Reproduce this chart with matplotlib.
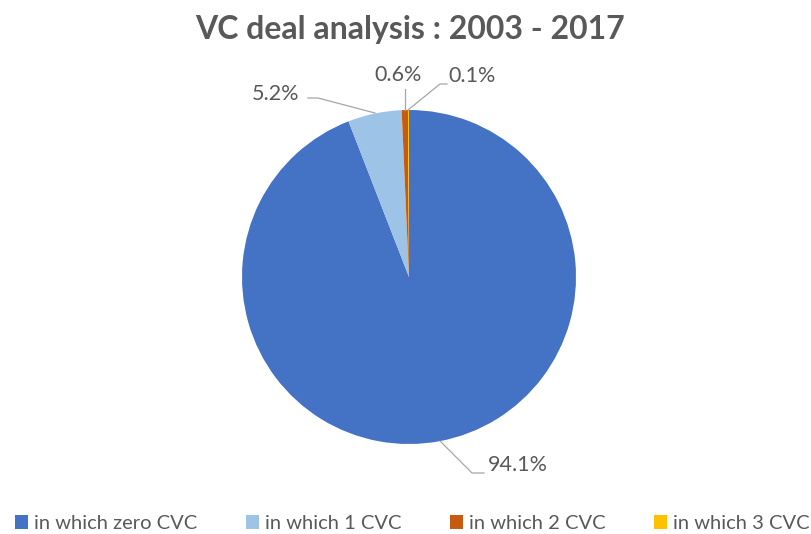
import matplotlib
matplotlib.use("Agg")
from matplotlib import pyplot as plt
from matplotlib.patches import Patch

plt.rcParams['font.family'] = ['Lato', 'DejaVu Sans']

# data
categories = ['in which zero CVC', 'in which 1 CVC', 'in which 2 CVC', 'in which 3 CVC']
shares = [94.1, 5.2, 0.6, 0.1]
colors = ['#4472C4', '#9DC3E6', '#C55A11', '#FFC000']

text_grey = '#595959'
line_grey = '#A6A6A6'

W, H = 812, 534
cx, cy, R = 409, 277, 167

fig = plt.figure(figsize=(W / 100, H / 100), dpi=100)
ax = fig.add_axes([(cx - R) / W, (H - cy - R) / H, 2 * R / W, 2 * R / H])

wedges, _ = ax.pie(shares, colors=colors, startangle=90, counterclock=False,
                   radius=1.0, wedgeprops=dict(linewidth=0))
ax.set_xlim(-1, 1)
ax.set_ylim(-1, 1)
ax.set_aspect('equal')
ax.axis('off')


def px(x, y):
    # pixel position in the picture -> pie data coords
    return (x - cx) / R, (cy - y) / R


# label text positions and leader lines (in pixels of the picture)
label_pos = [(518, 465), (276, 94), (398, 75), (472, 76)]
leaders = [
    [(440, 441), (472, 473), (484, 473)],
    [(375, 113), (318, 98), (308, 98)],
    [(405, 110), (405, 89)],
    [(408, 110), (440, 84), (447, 84)],
]

for val, pos, pts in zip(shares, label_pos, leaders):
    tx, ty = px(*pos)
    ax.text(tx, ty, f'{val:.1f}%', ha='center', va='center', fontsize=15.5,
            color=text_grey, clip_on=False)
    xs = [px(*p)[0] for p in pts]
    ys = [px(*p)[1] for p in pts]
    ax.plot(xs, ys, color=line_grey, linewidth=0.9, clip_on=False)

fig.text(0.505, 0.945, 'VC deal analysis : 2003 - 2017', ha='center', va='center',
         fontsize=23, fontweight='bold', color=text_grey)

handles = [Patch(facecolor=c, edgecolor='none') for c in colors]
fig.legend(handles, categories, loc='lower center', ncol=4, frameon=False,
           bbox_to_anchor=(0.508, -0.03), fontsize=14.5, labelcolor=text_grey,
           handlelength=0.65, handleheight=0.65, handletextpad=0.3,
           columnspacing=2.4)

fig.savefig('out.png', dpi=100)
